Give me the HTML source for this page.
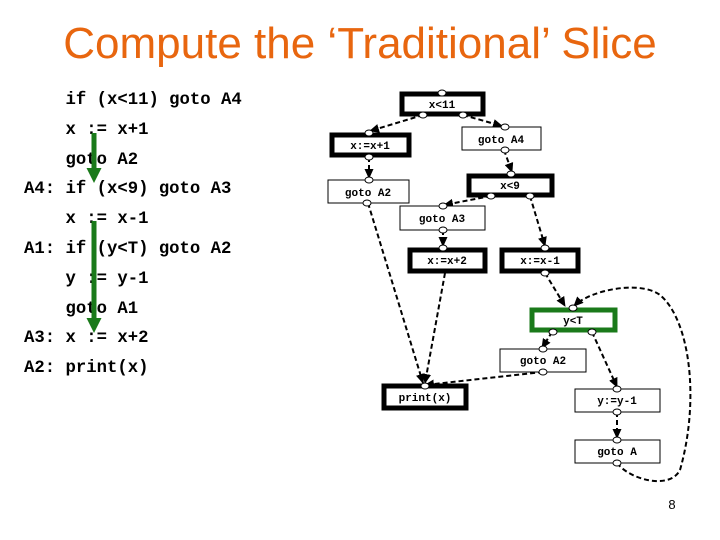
<!DOCTYPE html>
<html><head><style>
body{margin:0;width:720px;height:540px;background:#fff;overflow:hidden;position:relative;font-family:"Liberation Sans",sans-serif}
.t{position:absolute;left:0;top:19px;width:720px;text-align:center;color:#e8660f;font-size:44px}
.code{position:absolute;left:24px;font-family:"Liberation Mono",monospace;font-weight:bold;font-size:17.3px;white-space:pre}
</style></head><body>
<div class="t">Compute the ‘Traditional’ Slice</div>
<div class="code" style="top:86px;line-height:29.8px">    if (x&lt;11) goto A4
    x := x+1
    goto A2
A4: if (x&lt;9) goto A3
    x := x-1
A1: if (y&lt;T) goto A2
    y := y-1
    goto A1
A3: x := x+2
A2: print(x)</div>
<svg width="720" height="540" style="position:absolute;left:0;top:0" font-family="Liberation Mono,monospace" font-weight="bold" font-size="11">
<defs><marker id="a" markerUnits="userSpaceOnUse" markerWidth="10" markerHeight="9" refX="9" refY="4.5" orient="auto"><path d="M0,0L10,4.5L0,9z" fill="#000"/></marker>
<marker id="g" markerWidth="3" markerHeight="3" refX="2" refY="1.5" orient="auto"><path d="M0,0L3,1.5L0,3z" fill="#1a7a1a"/></marker></defs>
<line x1="94" y1="133" x2="94" y2="178" stroke="#1a7a1a" stroke-width="5" marker-end="url(#g)"/>
<line x1="94" y1="221" x2="94" y2="328" stroke="#1a7a1a" stroke-width="5" marker-end="url(#g)"/>
<g fill="none" stroke="#000" stroke-width="2" stroke-dasharray="5,3" marker-end="url(#a)">
<path d="M423,115L370,131"/><path d="M463,115L502,126"/>
<path d="M369,157L369,178"/><path d="M504,150L512,172"/>
<path d="M491,196L444,205"/><path d="M530,196L545,246"/>
<path d="M443,230L443,246"/><path d="M368,203L423,383"/>
<path d="M445,273L425,383"/><path d="M545,273L565,306"/>
<path d="M552,332L542,348"/><path d="M592,332L617,387"/>
<path d="M543,372L425,385"/><path d="M617,412L617,438"/>
<path d="M617,463C630,480 670,490 680,470C700,400 690,320 660,295C640,280 590,290 574,306"/>
</g>
<g stroke="#000" fill="#fff">
<rect x="402" y="94" width="81" height="20" stroke-width="5"/>
<rect x="332" y="135" width="77" height="20" stroke-width="5"/>
<rect x="462" y="127" width="79" height="23" stroke-width="1"/>
<rect x="328" y="180" width="81" height="23" stroke-width="1"/>
<rect x="469" y="176" width="83" height="19" stroke-width="5"/>
<rect x="400" y="206" width="85" height="24" stroke-width="1"/>
<rect x="410" y="250" width="75" height="21" stroke-width="5"/>
<rect x="502" y="250" width="76" height="21" stroke-width="5"/>
<rect x="532" y="310" width="83" height="20" stroke-width="5" stroke="#1a7a1a"/>
<rect x="500" y="349" width="86" height="23" stroke-width="1"/>
<rect x="384" y="386" width="82" height="22" stroke-width="5"/>
<rect x="575" y="389" width="85" height="23" stroke-width="1"/>
<rect x="575" y="440" width="85" height="23" stroke-width="1"/>
</g>
<g text-anchor="middle">
<text x="442" y="108">x&lt;11</text><text x="370" y="149">x:=x+1</text>
<text x="501" y="143">goto A4</text><text x="368" y="196">goto A2</text>
<text x="510" y="189">x&lt;9</text><text x="442" y="222">goto A3</text>
<text x="447" y="264">x:=x+2</text><text x="540" y="264">x:=x-1</text>
<text x="573" y="324">y&lt;T</text><text x="543" y="364">goto A2</text>
<text x="425" y="401">print(x)</text><text x="617" y="404">y:=y-1</text>
<text x="617" y="455">goto A</text>
</g>
<g fill="#fff" stroke="#000" stroke-width="1">
<ellipse cx="442" cy="93" rx="4" ry="3"/><ellipse cx="423" cy="115" rx="4" ry="3"/><ellipse cx="463" cy="115" rx="4" ry="3"/>
<ellipse cx="369" cy="133" rx="4" ry="3"/><ellipse cx="369" cy="157" rx="4" ry="3"/><ellipse cx="505" cy="127" rx="4" ry="3"/><ellipse cx="505" cy="150" rx="4" ry="3"/>
<ellipse cx="369" cy="180" rx="4" ry="3"/><ellipse cx="367" cy="203" rx="4" ry="3"/>
<ellipse cx="511" cy="174" rx="4" ry="3"/><ellipse cx="491" cy="196" rx="4" ry="3"/><ellipse cx="530" cy="196" rx="4" ry="3"/>
<ellipse cx="443" cy="206" rx="4" ry="3"/><ellipse cx="443" cy="230" rx="4" ry="3"/>
<ellipse cx="443" cy="248" rx="4" ry="3"/><ellipse cx="545" cy="248" rx="4" ry="3"/><ellipse cx="545" cy="273" rx="4" ry="3"/>
<ellipse cx="573" cy="308" rx="4" ry="3"/><ellipse cx="553" cy="332" rx="4" ry="3"/><ellipse cx="592" cy="332" rx="4" ry="3"/>
<ellipse cx="543" cy="349" rx="4" ry="3"/><ellipse cx="543" cy="372" rx="4" ry="3"/>
<ellipse cx="425" cy="386" rx="4" ry="3"/><ellipse cx="617" cy="389" rx="4" ry="3"/><ellipse cx="617" cy="412" rx="4" ry="3"/>
<ellipse cx="617" cy="440" rx="4" ry="3"/><ellipse cx="617" cy="463" rx="4" ry="3"/>
</g>
<text x="672" y="509" font-family="Liberation Sans,sans-serif" font-weight="normal" font-size="13" text-anchor="middle">8</text>
</svg>
</body></html>
